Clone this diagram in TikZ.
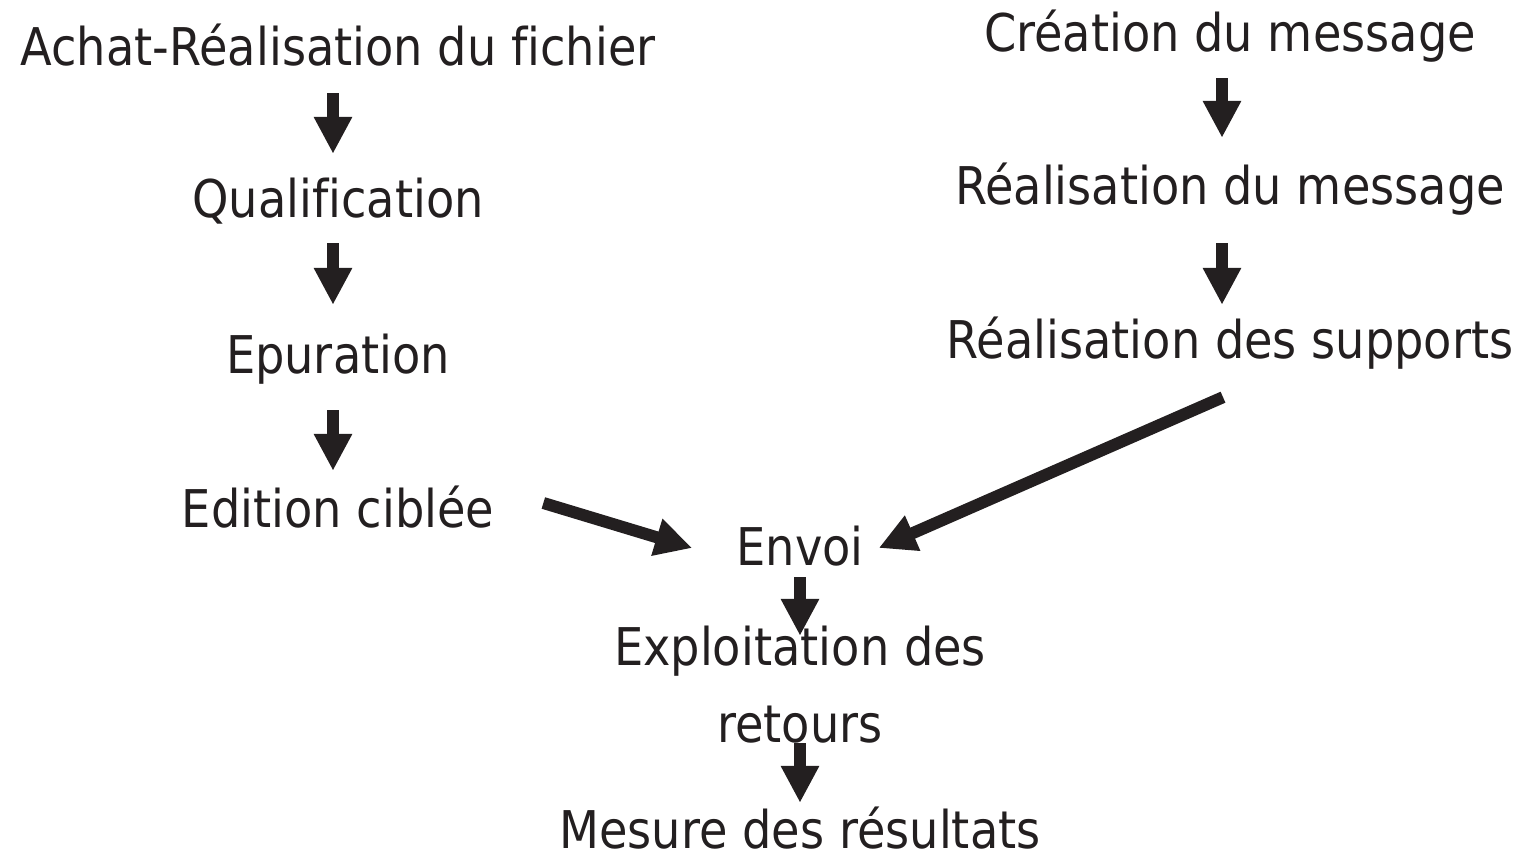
\documentclass[tikz,border=0pt]{standalone}
\usepackage{fontspec}
\setmainfont{DejaVu Sans}[FakeStretch=0.89,Ligatures=NoCommon]
\usetikzlibrary{arrows.meta}
\definecolor{ink}{HTML}{231F20}
\begin{document}
\begin{tikzpicture}[x=1pt,y=-1pt,
  lbl/.style={anchor=base,inner sep=0pt,text height=38pt,text depth=0pt,
    font=\fontsize{52}{60}\selectfont,text=ink},
  blockarrow/.style={draw=ink,line width=12pt,
    -{Triangle[width=36pt,length=37pt]},fill=ink}]
\useasboundingbox (0,0) rectangle (1523,850);
% left column
\node[lbl] (ach) at (338,66) {Achat-Réalisation du fichier};
\node[lbl] (qual) at (338,218) {Qualification};
\node[lbl] (epur) at (338,373) {Epuration};
\node[lbl] (edit) at (338,527) {Edition ciblée};
% right column
\node[lbl] (crea) at (1230,52) {Création du message};
\node[lbl] (rmsg) at (1230,205) {Réalisation du message};
\node[lbl] (supp) at (1230,358) {Réalisation des supports};
% centre
\node[lbl] (envoi) at (800,565) {Envoi};
\node[lbl] (expl) at (800,665) {Exploitation des};
\node[lbl] (ret) at (800,742) {retours};
\node[lbl] (mes) at (800,848) {Mesure des résultats};
% arrows
\draw[blockarrow,shorten <=27pt,shorten >=26pt] ([xshift=-5pt]ach.south) -- ([xshift=-5pt]qual.north);
\draw[blockarrow,shorten <=25pt,shorten >=30pt] ([xshift=-5pt]qual.south) -- ([xshift=-5pt]epur.north);
\draw[blockarrow,shorten <=37pt,shorten >=18pt] ([xshift=-5pt]epur.south) -- ([xshift=-5pt]edit.north);
\draw[blockarrow,shorten <=26pt,shorten >=29pt] ([xshift=-8pt]crea.south) -- ([xshift=-8pt]rmsg.north);
\draw[blockarrow,shorten <=38pt,shorten >=15pt] ([xshift=-8pt]rmsg.south) -- ([xshift=-8pt]supp.north);
\draw[blockarrow,shorten <=12pt,shorten >=-9pt] (envoi.south) -- (expl.north);
\draw[blockarrow,shorten <=1pt,shorten >=7pt] (ret.south) -- (mes.north);
\draw[blockarrow] ([shift={(49,-5)}]edit.east) -- ([shift={(-44,2)}]envoi.west);
\draw[blockarrow] ([shift={(-7,39)}]supp.south) -- ([shift={(15,2)}]envoi.east);
\end{tikzpicture}
\end{document}
